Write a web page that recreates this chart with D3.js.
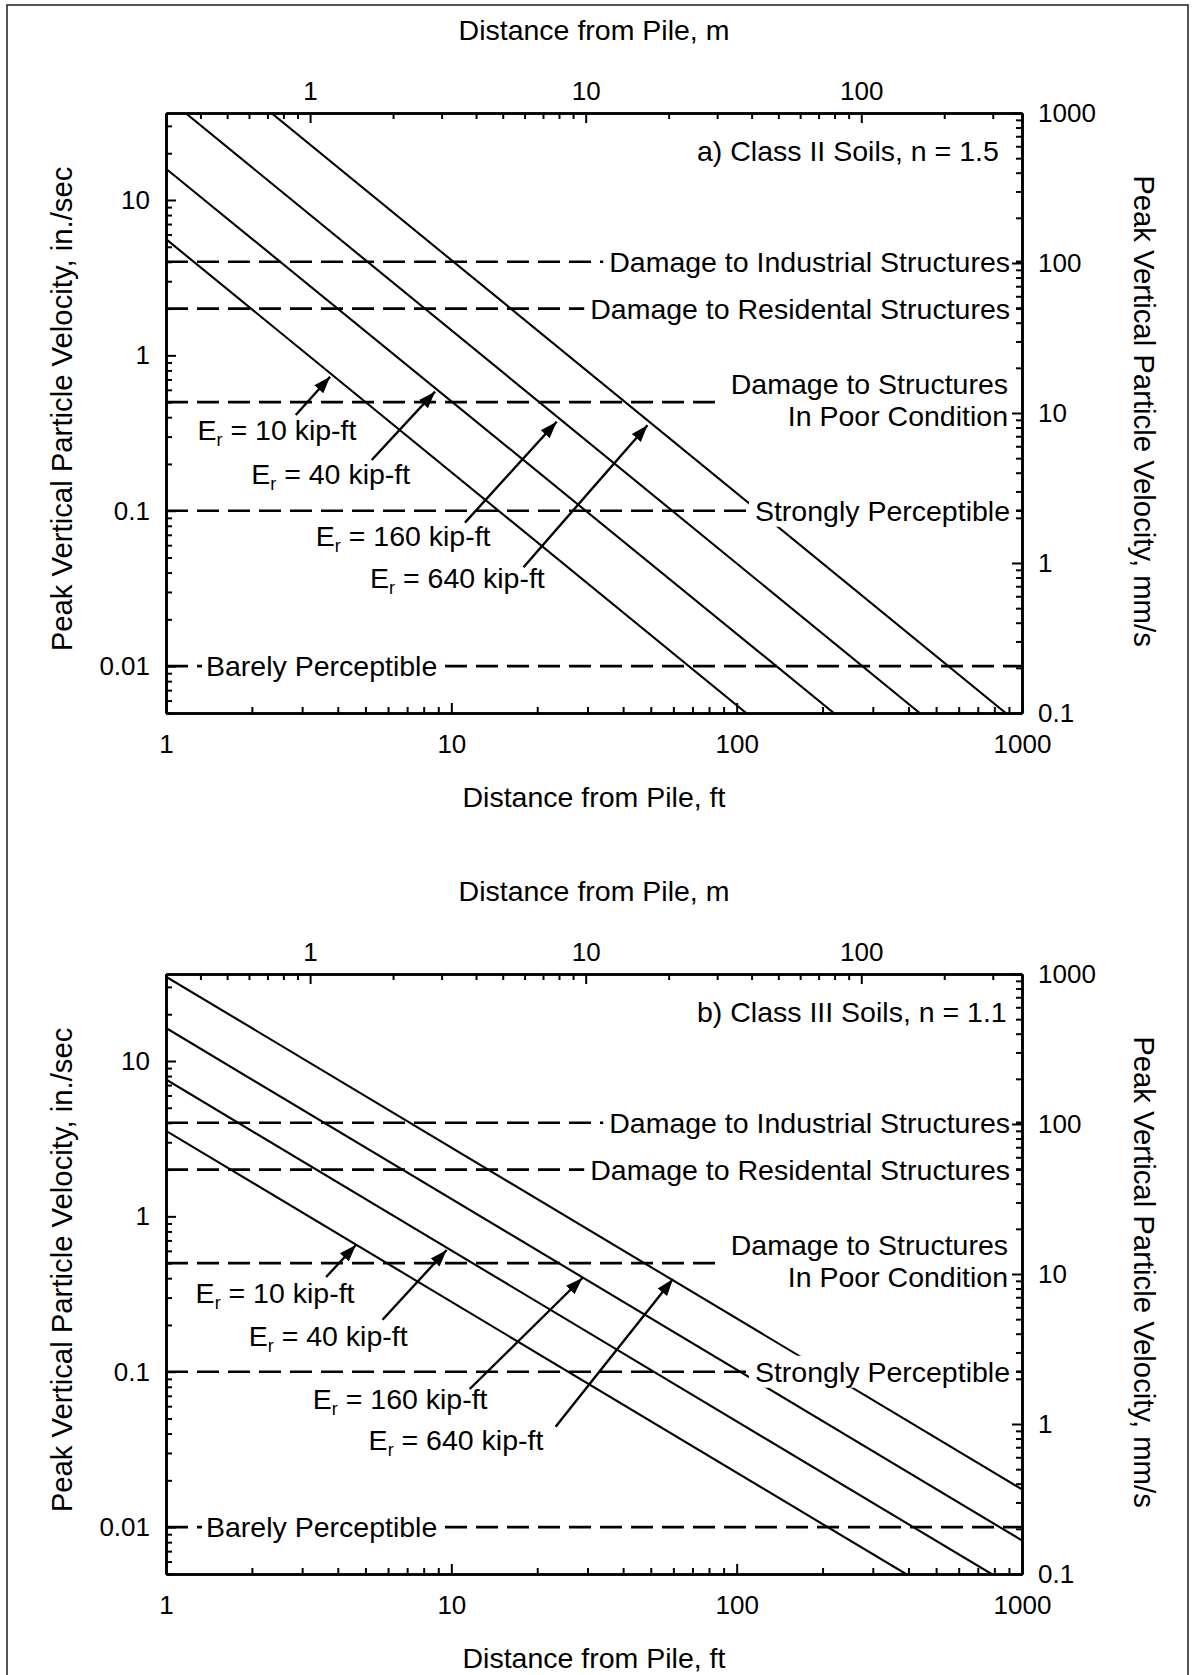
<!DOCTYPE html>
<html><head><meta charset="utf-8">
<script src="https://cdn.jsdelivr.net/npm/d3@7"></script>
<style>
body{margin:0;background:#fff}
svg{display:block}
text{font-family:"Liberation Sans",Arial,Helvetica,sans-serif;fill:#000}
</style>
</head><body>
<svg id="c" width="1199" height="1675"></svg>
<script>
// ---------------- data ----------------
const distanceDomainFt = [1, 1000];
const distanceDomainM = [0.3, 383];
const velocityDomainIn = [0.00499, 36.3];
const velocityDomainMm = [0.1, 1000];
const xTickLabelsFt = [1, 10, 100, 1000];
const xTickLabelsM = [1, 10, 100];
const yTickLabelsIn = [0.01, 0.1, 1, 10];
const yTickLabelsMm = [0.1, 1, 10, 100, 1000];

const energies = ["10", "40", "160", "640"];

// line endpoints [distance ft, PPV in./sec]
const classIILines = [
  [[1, 5.6], [108, 0.00499]],
  [[1, 15.9], [219, 0.00499]],
  [[1.17, 36.3], [438, 0.00499]],
  [[2.34, 36.3], [877, 0.00499]]
];
const classIIILines = [
  [[1, 3.55], [392, 0.00499]],
  [[1, 7.6], [782, 0.00499]],
  [[1, 16.3], [1000, 0.0082]],
  [[1, 34.9], [1000, 0.0175]]
];

const thresholdValues = [4, 2, 0.5, 0.1, 0.01];
const thresholdEndsFt = [1000, 1000, 86, 1000, 1000];
const thresholdLabels = [
  ["Damage to Industrial Structures"],
  ["Damage to Residental Structures"],
  ["Damage to Structures", "In Poor Condition"],
  ["Strongly Perceptible"],
  ["Barely Perceptible"]
];

// arrow annotations [distance ft, PPV in./sec]
const classIIArrowTails = [[2.85, 0.413], [5.26, 0.212], [11.16, 0.0838], [17.9, 0.0433]];
const classIIArrowHeads = [[3.76, 0.729], [8.77, 0.584], [23.4, 0.374], [48.7, 0.355]];
const classIILabelPos   = [[1.29, 0.285], [1.99, 0.1486], [3.35, 0.0593], [5.19, 0.0318]];
const classIIIArrowTails = [[3.64, 0.407], [5.74, 0.216], [11.6, 0.0774], [23.2, 0.0443]];
const classIIIArrowHeads = [[4.63, 0.654], [9.63, 0.607], [28.8, 0.401], [59.8, 0.395]];
const classIIILabelPos   = [[1.27, 0.277], [1.95, 0.1464], [3.27, 0.0575], [5.13, 0.0314]];

const panelTitles = ["a) Class II Soils, n = 1.5", "b) Class III Soils, n = 1.1"];

// ---------------- drawing ----------------
const svg = d3.select("#c");
const FONT = "28.5px";
const VFONT = "29.3px";
const TICKFONT = "26px";

svg.append("rect").attr("x", 7).attr("y", 5).attr("width", 1181).attr("height", 1700)
  .attr("fill", "none").attr("stroke", "#2a2a2a").attr("stroke-width", 1.6);

const defs = svg.append("defs");
defs.append("marker").attr("id", "ah")
  .attr("viewBox", "0 -7 17 14").attr("refX", 17).attr("refY", 0)
  .attr("markerWidth", 17).attr("markerHeight", 14)
  .attr("markerUnits", "userSpaceOnUse").attr("orient", "auto")
  .append("path").attr("d", "M0,-6L17,0L0,6Z").attr("fill", "#000");

const L = 166, R = 1022, T = 113, B = 713;

function isMajor(v) { const l = Math.log10(v); return Math.abs(l - Math.round(l)) < 1e-6; }

function addAxis(g, axisFn, scale, transform, majors, padding) {
  const minors = scale.ticks().filter(v => !isMajor(v));
  const gm = g.append("g").attr("transform", transform)
    .call(axisFn(scale).tickValues(minors).tickSize(-6).tickSizeOuter(0).tickFormat(""));
  const gM = g.append("g").attr("transform", transform)
    .call(axisFn(scale).tickValues(majors).tickSize(-10).tickSizeOuter(0)
      .tickPadding(padding).tickFormat(d3.format("~g")));
  [gm, gM].forEach(a => {
    a.select(".domain").attr("stroke", "#000").attr("stroke-width", 2.6);
    a.selectAll(".tick line").attr("stroke", "#000").attr("stroke-width", 2);
    a.selectAll("text").style("font-size", TICKFONT)
      .style("font-family", '"Liberation Sans",Arial,sans-serif').attr("fill", "#000");
  });
}

function addBgText(g, x, y, str, anchor, pad) {
  const t = g.append("text").attr("x", x).attr("y", y).attr("text-anchor", anchor)
    .style("font-size", FONT).text(str);
  const bb = t.node().getBBox();
  g.insert("rect", () => t.node())
    .attr("x", bb.x - pad).attr("y", bb.y).attr("width", bb.width + 2 * pad).attr("height", bb.height)
    .attr("fill", "#fff");
  return t;
}

function drawPanel(idx, off, lines, tails, heads, labels) {
  const g = svg.append("g");
  const x = d3.scaleLog().domain(distanceDomainFt).range([L, R]);
  const xm = d3.scaleLog().domain(distanceDomainM).range([L, R]);
  const y = d3.scaleLog().domain(velocityDomainIn).range([B + off, T + off]);
  const ym = d3.scaleLog().domain(velocityDomainMm).range([B + off, T + off]);

  const cid = "clip" + idx;
  defs.append("clipPath").attr("id", cid).append("rect")
    .attr("x", L).attr("y", T + off).attr("width", R - L).attr("height", B - T);

  const plot = g.append("g").attr("clip-path", `url(#${cid})`);
  const lineGen = d3.line().x(d => x(d[0])).y(d => y(d[1]));

  plot.selectAll("path.dl").data(lines).join("path").attr("class", "dl")
    .attr("d", lineGen).attr("fill", "none").attr("stroke", "#000").attr("stroke-width", 2.1);

  thresholdValues.forEach((v, i) => {
    plot.append("line")
      .attr("x1", x(distanceDomainFt[0])).attr("x2", x(thresholdEndsFt[i]))
      .attr("y1", y(v)).attr("y2", y(v))
      .attr("stroke", "#000").attr("stroke-width", 2.6).attr("stroke-dasharray", "22,9");
  });

  // threshold labels
  const lab = g.append("g");
  thresholdValues.forEach((v, i) => {
    const labs = thresholdLabels[i];
    if (i === 4) {
      addBgText(lab, 206, y(v) + 10, labs[0], "start", 4);
    } else if (labs.length === 2) {
      addBgText(lab, 1008, y(v) - 8, labs[0], "end", 5);
      addBgText(lab, 1008, y(v) + 24, labs[1], "end", 5);
    } else {
      addBgText(lab, 1010, y(v) + 10, labs[0], "end", 6);
    }
  });

  // arrows
  tails.forEach((tl, i) => {
    g.append("line")
      .attr("x1", x(tl[0])).attr("y1", y(tl[1]))
      .attr("x2", x(heads[i][0])).attr("y2", y(heads[i][1]))
      .attr("stroke", "#000").attr("stroke-width", 2.4).attr("marker-end", "url(#ah)");
  });
  labels.forEach((p, i) => {
    const t = g.append("text").attr("x", x(p[0])).attr("y", y(p[1])).style("font-size", FONT);
    t.append("tspan").text("E");
    t.append("tspan").style("font-size", "18px").attr("dy", 6).text("r");
    t.append("tspan").attr("dy", -6).text(" = " + energies[i] + " kip-ft");
  });

  // axes
  addAxis(g, d3.axisBottom, x, `translate(0,${B + off})`, xTickLabelsFt, 22);
  addAxis(g, d3.axisTop, xm, `translate(0,${T + off})`, xTickLabelsM, 13.5);
  addAxis(g, d3.axisLeft, y, `translate(${L},0)`, yTickLabelsIn, 16);
  addAxis(g, d3.axisRight, ym, `translate(${R},0)`, yTickLabelsMm, 16);

  // axis titles
  g.append("text").attr("x", 594).attr("y", 39.5 + off).attr("text-anchor", "middle")
    .style("font-size", FONT).text("Distance from Pile, m");
  g.append("text").attr("x", 594).attr("y", 807 + off).attr("text-anchor", "middle")
    .style("font-size", FONT).text("Distance from Pile, ft");
  g.append("text").attr("transform", `translate(61,${409 + off}) rotate(-90)`)
    .attr("text-anchor", "middle").attr("dy", "0.36em")
    .style("font-size", VFONT).text("Peak Vertical Particle Velocity, in./sec");
  g.append("text").attr("transform", `translate(1145,${411 + off}) rotate(90)`)
    .attr("text-anchor", "middle").attr("dy", "0.36em")
    .style("font-size", VFONT).text("Peak Vertical Particle Velocity, mm/s");

  g.append("text").attr("x", 697).attr("y", 161 + off).style("font-size", FONT).text(panelTitles[idx]);
}

drawPanel(0, 0, classIILines, classIIArrowTails, classIIArrowHeads, classIILabelPos);
drawPanel(1, 861, classIIILines, classIIIArrowTails, classIIIArrowHeads, classIIILabelPos);
</script>
</body></html>
